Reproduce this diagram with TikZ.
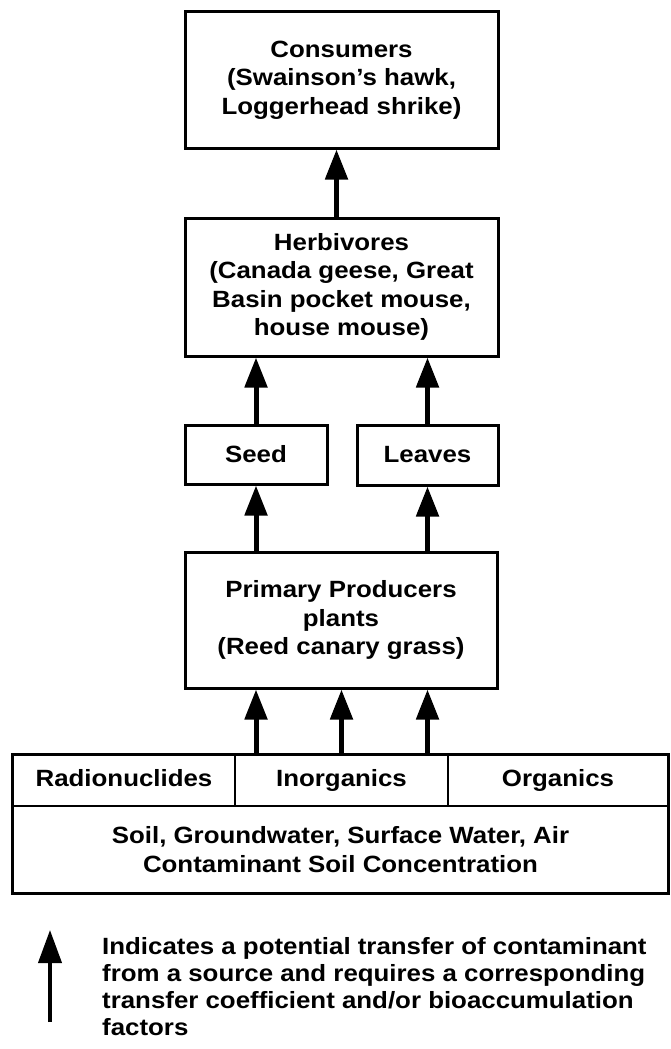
\documentclass[tikz,border=0pt]{standalone}
\usepackage{fontspec}
\setmainfont{Liberation Sans}[FakeStretch=1.1,BoldFeatures={FakeStretch=1.1}]
\usetikzlibrary{arrows.meta}
\begin{document}
\begin{tikzpicture}[x=1pt,y=-1pt,
  label font/.style={font=\bfseries\fontsize{23.5}{28.5}\selectfont},
  box/.style={draw,line width=3pt,inner sep=0pt,align=center,label font},
  cell/.style={inner sep=0pt,align=center,label font},
  rowcell/.style={cell,text height=17pt,text depth=5pt},
  flow/.style={line width=5pt,-{Triangle[width=22pt,length=30pt]}},
  frame/.style={line width=3pt},
  divider/.style={line width=2pt},
]
\useasboundingbox[fill=white] (0,0) rectangle (670,1049);

% trophic levels
\node[box,minimum width=313pt,minimum height=136pt] (cons) at (341.5,80)
  {Consumers\\(Swainson's hawk,\\Loggerhead shrike)};
\node[box,minimum width=313pt,minimum height=138pt] (herb) at (341.5,287)
  {Herbivores\\(Canada geese, Great\\Basin pocket mouse,\\house mouse)};
\node[box,minimum width=142pt,minimum height=59pt] (seed) at (256,454.5) {Seed};
\node[box,minimum width=141pt,minimum height=60pt] (leaves) at (427.5,455) {Leaves};
\node[box,minimum width=312pt,minimum height=136pt] (prim) at (341,620)
  {Primary Producers\\plants\\(Reed canary grass)};

% source media
\node[rowcell,minimum width=222pt,minimum height=51pt] (radio) at (124,780.5) {Radionuclides};
\node[rowcell,minimum width=213pt,minimum height=51pt] (inorg) at (341.5,780.5) {Inorganics};
\node[rowcell,minimum width=220pt,minimum height=51pt] (org) at (558,780.5) {Organics};
\node[cell,minimum width=655pt,minimum height=87pt] (soil) at (340.5,849.5)
  {Soil, Groundwater, Surface Water, Air\\Contaminant Soil Concentration};
\draw[frame] (radio.north west) rectangle (soil.south east);
\draw[divider] (radio.south west) -- (org.south east);
\draw[divider] (radio.north east) -- (radio.south east);
\draw[divider] (inorg.north east) -- (inorg.south east);

% transfers
\draw[flow] ([xshift=-5pt]herb.north) -- ([xshift=-5pt]cons.south);
\draw[flow] (seed.north) -- (seed.north |- herb.south);
\draw[flow] (leaves.north) -- (leaves.north |- herb.south);
\draw[flow] (prim.north -| seed.north) -- (seed.south);
\draw[flow] (prim.north -| leaves.north) -- (leaves.south);
\draw[flow] (inorg.north -| seed.north) -- (prim.south -| seed.north);
\draw[flow] (inorg.north) -- (prim.south -| inorg.north);
\draw[flow] (inorg.north -| leaves.north) -- (prim.south -| leaves.north);

% legend
\coordinate (ltail) at (50,1022);
\coordinate (lhead) at (50,930);
\draw[line width=4pt,-{Triangle[width=23pt,length=33pt]}] (ltail) -- (lhead);
\node[anchor=north west,align=left,inner sep=0pt,font=\bfseries\fontsize{23.5}{27}\selectfont] (legend) at (102,937)
  {Indicates a potential transfer of contaminant\\
   from a source and requires a corresponding\\
   transfer coefficient and/or bioaccumulation\\
   factors};
\end{tikzpicture}
\end{document}
